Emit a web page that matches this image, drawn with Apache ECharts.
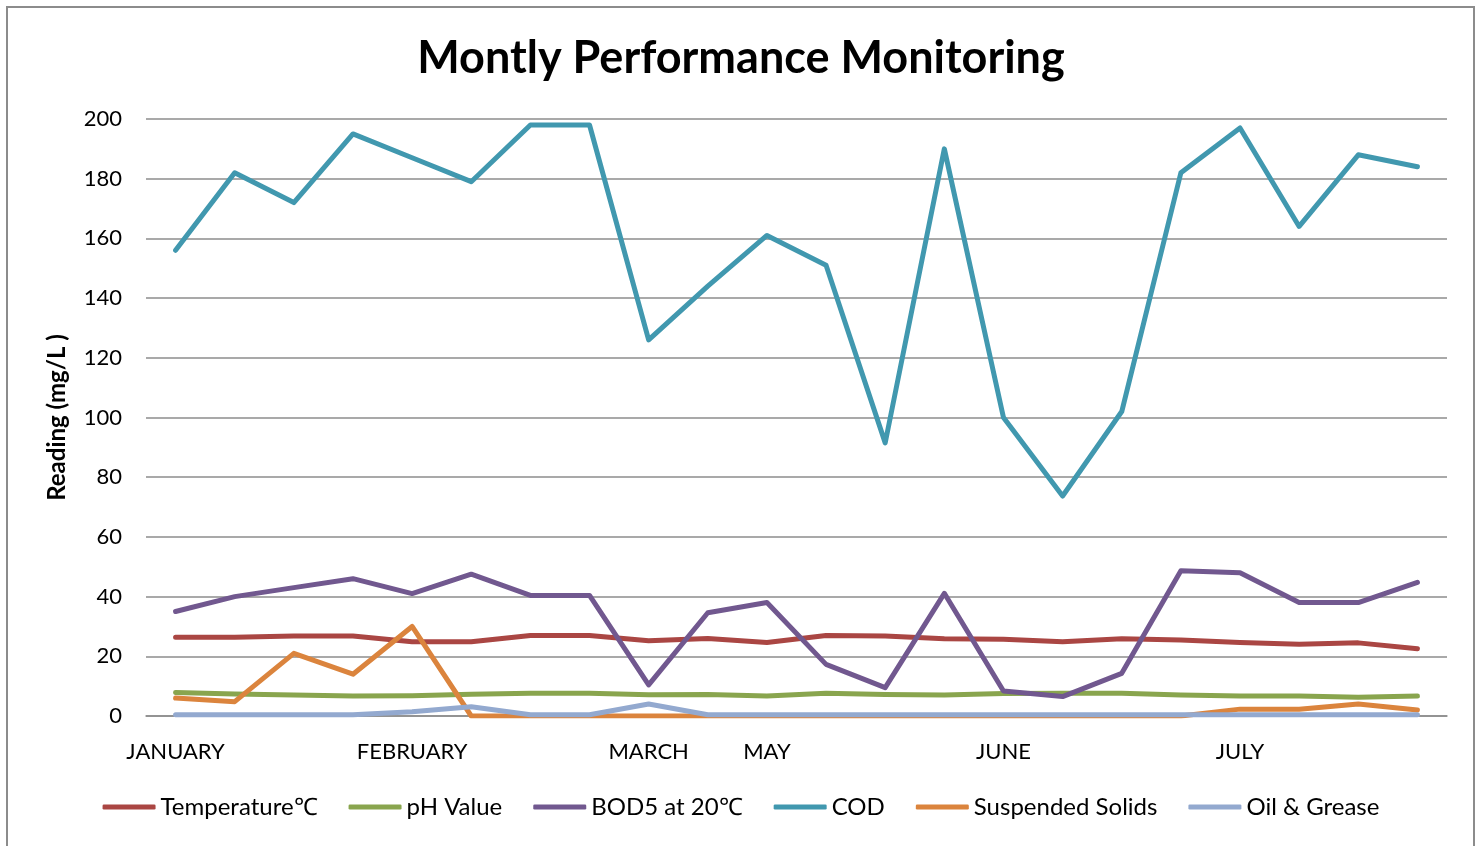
<!DOCTYPE html>
<html>
<head>
<meta charset="utf-8">
<script src="https://cdn.jsdelivr.net/npm/echarts@6/dist/echarts.min.js"></script>
<style>
  html, body { margin: 0; padding: 0; background: #fff; }
  #main { width: 1482px; height: 846px; }
</style>
</head>
<body>
<div id="main"></div>
<script>
// x-axis categories (only some carry a month label)
const months = ['JANUARY', '', '', '', 'FEBRUARY', '', '', '', 'MARCH', '', 'MAY', '', '', '', 'JUNE', '', '', '', 'JULY', '', '', '']

const temperature = [26.4, 26.4, 26.8, 26.8, 24.9, 24.9, 27, 27, 25.2, 26, 24.6, 27, 26.8, 25.9, 25.7, 24.9, 25.9, 25.5, 24.6, 24, 24.5, 22.5]
const phValue = [7.9, 7.4, 7.0, 6.7, 6.8, 7.3, 7.6, 7.6, 7.1, 7.2, 6.7, 7.6, 7.2, 7.0, 7.5, 7.6, 7.6, 7.0, 6.7, 6.7, 6.3, 6.7]
const bod5 = [35, 40, 43, 46, 41, 47.5, 40.4, 40.4, 10.4, 34.6, 38, 17.3, 9.5, 41.1, 8.4, 6.5, 14.3, 48.7, 48, 38, 38, 44.8]
const cod = [156, 182, 172, 195, 187, 179, 198, 198, 126, 144, 161, 151, 91.5, 190, 100, 73.7, 102, 182, 197, 164, 188, 184]
const suspendedSolids = [6, 4.8, 21, 14, 30, 0, 0, 0, 0, 0, 0, 0, 0, 0, 0, 0, 0, 0, 2.3, 2.3, 4, 2]
const oilGrease = [0.4, 0.4, 0.4, 0.4, 1.4, 3.1, 0.4, 0.4, 4, 0.4, 0.4, 0.4, 0.4, 0.4, 0.4, 0.4, 0.4, 0.4, 0.4, 0.4, 0.4, 0.4]

const seriesNames = ['Temperature℃', 'pH Value', 'BOD5 at 20℃', 'COD', 'Suspended Solids', 'Oil & Grease']
const seriesData = [temperature, phValue, bod5, cod, suspendedSolids, oilGrease]
const colors = ['#AA4643', '#89A54E', '#71588F', '#4198AF', '#DB843D', '#93A9CF']

const font = 'Lato, "Open Sans", sans-serif'

const chart = echarts.init(document.getElementById('main'))

const option = {
  animation: false,
  color: colors,
  textStyle: { fontFamily: font },
  title: {
    text: 'Montly Performance Monitoring',
    left: 'center',
    top: 31,
    textStyle: { fontSize: 45, fontWeight: 'bold', color: '#000', fontFamily: font },
  },
  graphic: [
    {
      type: 'rect',
      shape: { x: 7, y: 7, width: 1467, height: 900 },
      style: { fill: 'none', stroke: '#8c8c8c', lineWidth: 2 },
      silent: true,
    },
  ],
  grid: {
    left: 146,
    right: 35,
    top: 119,
    bottom: 130,
  },
  legend: {
    top: 790,
    left: 'center',
    itemWidth: 53,
    itemHeight: 5,
    itemGap: 31,
    icon: 'roundRect',
    textStyle: { fontSize: 24, color: '#000', fontFamily: font },
    data: seriesNames,
  },
  xAxis: {
    type: 'category',
    data: months,
    boundaryGap: true,
    axisLine: { lineStyle: { color: '#8c8c8c', width: 1.5 } },
    axisTick: { show: false },
    axisLabel: {
      interval: 0,
      margin: 25,
      fontSize: 22,
      color: '#000',
      fontFamily: font,
    },
  },
  yAxis: {
    type: 'value',
    min: 0,
    max: 200,
    interval: 20,
    name: 'Reading (mg/L )',
    nameLocation: 'middle',
    nameGap: 77,
    nameTextStyle: { fontSize: 24, fontWeight: 'bold', color: '#000', fontFamily: font },
    axisLine: { show: false },
    axisTick: { show: false },
    axisLabel: { fontSize: 22, color: '#000', margin: 24, fontFamily: font },
    splitLine: { lineStyle: { color: '#8c8c8c', width: 1.5 } },
  },
  series: seriesNames.map((name, i) => ({
    name,
    type: 'line',
    data: seriesData[i],
    symbol: 'none',
    lineStyle: { width: 5, cap: 'round', join: 'round' },
    z: 2 + i,
  })),
}

chart.setOption(option)
</script>
</body>
</html>
